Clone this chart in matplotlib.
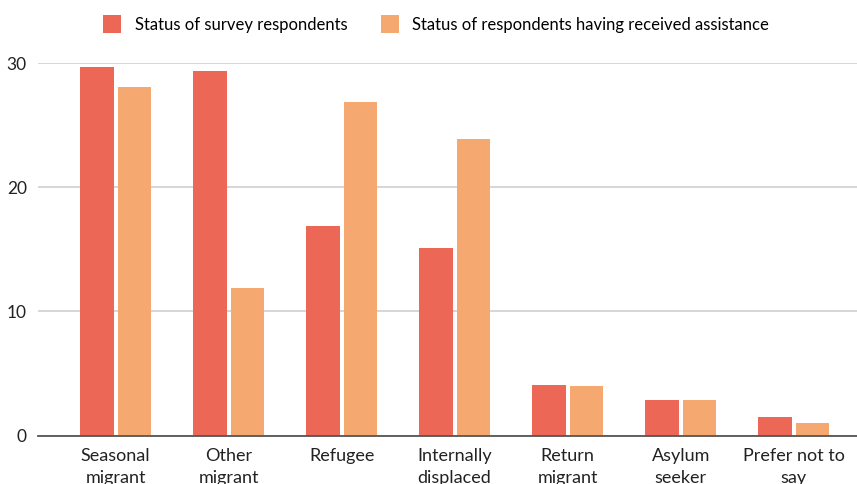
import matplotlib
matplotlib.use("Agg")
import matplotlib.pyplot as plt
import numpy as np

plt.rcParams['font.family'] = ['Lato', 'DejaVu Sans']

categories = ["Seasonal\nmigrant", "Other\nmigrant", "Refugee", "Internally\ndisplaced",
              "Return\nmigrant", "Asylum\nseeker", "Prefer not to\nsay"]
survey = [29.7, 29.4, 16.9, 15.1, 4.1, 2.9, 1.5]
assisted = [28.1, 11.9, 26.9, 23.9, 4.0, 2.9, 1.0]
series_names = ["Status of survey respondents", "Status of respondents having received assistance"]
yticks = [0, 10, 20, 30]

red = "#ED6757"
orange = "#F5A970"

fig = plt.figure(figsize=(8.57, 4.84), dpi=100)
ax = fig.add_axes([38/857, 1-435.5/484, 1-38/857, (435.5-63.3)/484])

x = np.arange(len(categories))
w = 0.297
ax.bar(x - 0.166, survey, w, color=red, label=series_names[0], zorder=3)
ax.bar(x + 0.166, assisted, w, color=orange, label=series_names[1], zorder=3)

ax.set_xlim(-0.686, 6.56)
ax.set_ylim(0, 30)
ax.set_yticks(yticks)
ax.set_xticks(x)
ax.set_xticklabels(categories, fontsize=13, color="#222222", linespacing=1.45)
ax.tick_params(axis='both', length=0, colors="#222222")
ax.tick_params(axis='y', labelsize=12.5, pad=8)
ax.tick_params(axis='x', pad=9)
ax.grid(axis='y', color="#D0D0D0", linewidth=1.2, zorder=0)
for s in ['top', 'right', 'left']:
    ax.spines[s].set_visible(False)
ax.spines['bottom'].set_color("#555555")
ax.spines['bottom'].set_linewidth(1.3)
ax.spines['bottom'].set_zorder(4)

fig.legend(loc='center', bbox_to_anchor=(436/857, 1-24/484), ncol=2, frameon=False,
           fontsize=12, handlelength=1.1, handleheight=1.3, columnspacing=2.0, handletextpad=0.8)

plt.savefig("out.png", dpi=100)
